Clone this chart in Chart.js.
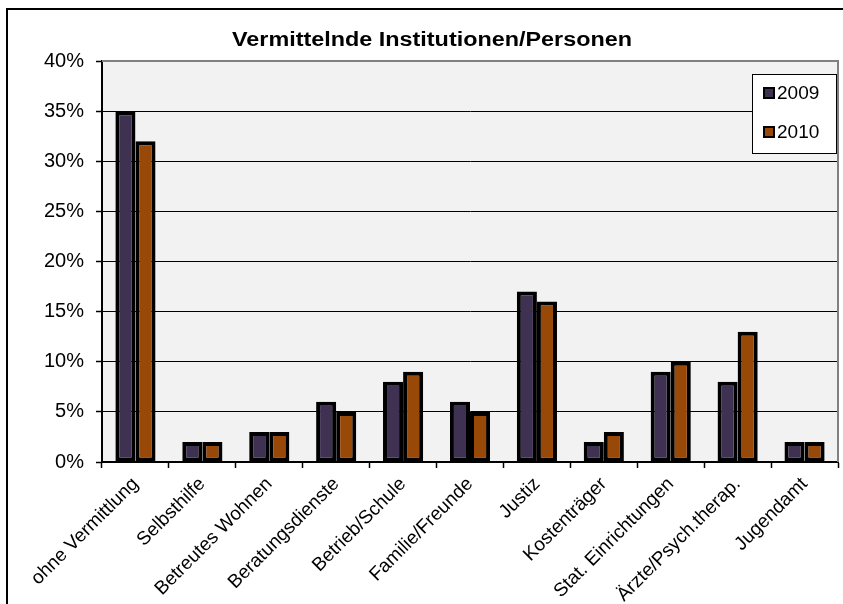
<!doctype html>
<html lang="de">

<head>
    <meta charset="utf-8">
    <title>Vermittelnde Institutionen/Personen</title>
    <style>
        body { margin: 0; background: #fff; }
        #wrap { width: 843px; height: 604px; }
    </style>
</head>

<body>
    <div id="wrap"><canvas id="chart" width="843" height="604"></canvas></div>

    <script src="https://cdn.jsdelivr.net/npm/chart.js"></script>
    <script>
        const categories = ["ohne Vermittlung", "Selbsthilfe", "Betreutes Wohnen", "Beratungsdienste",
            "Betrieb/Schule", "Familie/Freunde", "Justiz", "Kostenträger", "Stat. Einrichtungen",
            "Ärzte/Psych.therap.", "Jugendamt"];
        const values2009 = [35, 2, 3, 6, 8, 6, 17, 2, 9, 8, 2];
        const values2010 = [32, 2, 3, 5, 9, 5, 16, 3, 10, 13, 2];
        const yTicks = [0, 5, 10, 15, 20, 25, 30, 35, 40];
        const chartTitle = "Vermittelnde Institutionen/Personen";

        const FONT = "'Liberation Sans', Arial, sans-serif";

        // frame, plot background, grey plot border, title and boxed legend
        const decor = {
            id: 'decor',
            beforeDraw(chart) {
                const { ctx, chartArea: a } = chart;
                ctx.save();
                ctx.fillStyle = '#F2F2F2';
                ctx.fillRect(a.left, a.top, a.right - a.left, a.bottom - a.top);
                ctx.strokeStyle = '#000';
                ctx.lineWidth = 2;
                ctx.strokeRect(7, 9, 900, 700);
                ctx.restore();
            },
            afterDraw(chart) {
                const { ctx, chartArea: a } = chart;
                ctx.save();
                // grey border top/right
                ctx.strokeStyle = '#808080';
                ctx.lineWidth = 2;
                ctx.beginPath();
                ctx.moveTo(a.left, a.top);
                ctx.lineTo(a.right, a.top);
                ctx.lineTo(a.right, a.bottom);
                ctx.stroke();

                // title
                ctx.font = 'bold 20px ' + FONT;
                ctx.fillStyle = '#000';
                ctx.textBaseline = 'alphabetic';
                const w = ctx.measureText(chartTitle).width;
                const sx = 400 / w;
                ctx.translate(432, 46);
                ctx.scale(sx, 1);
                ctx.textAlign = 'center';
                ctx.fillText(chartTitle, 0, 0);
                ctx.restore();

                // legend box
                ctx.save();
                const bx = a.right - 86, by = a.top + 13, bw = 84, bh = 79;
                ctx.fillStyle = '#fff';
                ctx.fillRect(bx, by, bw, bh);
                ctx.strokeStyle = '#000';
                ctx.lineWidth = 1;
                ctx.strokeRect(bx + 0.5, by + 0.5, bw, bh);
                ctx.font = '19px ' + FONT;
                ctx.textBaseline = 'middle';
                chart.data.datasets.forEach((ds, i) => {
                    const cy = by + 19 + i * 39;
                    ctx.fillStyle = ds.backgroundColor;
                    ctx.fillRect(bx + 12, cy - 5, 10, 10);
                    ctx.lineWidth = 2;
                    ctx.strokeRect(bx + 12, cy - 5, 10, 10);
                    ctx.fillStyle = '#000';
                    ctx.fillText(ds.label, bx + 25, cy + 1);
                });
                ctx.restore();
            }
        };

        new Chart(document.getElementById('chart'), {
            type: 'bar',
            data: {
                labels: categories,
                datasets: [
                    {
                        label: '2009', data: values2009, backgroundColor: '#3F3151',
                        borderColor: '#000', borderWidth: 4, borderSkipped: false
                    },
                    {
                        label: '2010', data: values2010, backgroundColor: '#984807',
                        borderColor: '#000', borderWidth: 4, borderSkipped: false
                    }
                ]
            },
            options: {
                responsive: false,
                animation: false,
                layout: { padding: { top: 61, right: 5, left: 0, bottom: 0 } },
                datasets: { bar: { categoryPercentage: 0.6, barPercentage: 1 } },
                plugins: {
                    legend: { display: false },
                    title: { display: false },
                    tooltip: { enabled: false }
                },
                scales: {
                    x: {
                        afterFit: s => { s.height = 142; },
                        grid: { drawOnChartArea: false, offset: true, tickLength: 6, tickColor: '#000', tickWidth: 1.5 },
                        border: { color: '#000', width: 2 },
                        ticks: {
                            minRotation: 45, maxRotation: 45, autoSkip: false, padding: 5,
                            color: '#000', font: { family: FONT, size: 19 }
                        }
                    },
                    y: {
                        min: 0, max: 40,
                        afterFit: s => { s.width = 102; },
                        afterBuildTicks: s => { s.ticks = yTicks.map(v => ({ value: v })); },
                        grid: {
                            color: c => c.tick && c.tick.value === 40 ? 'rgba(0,0,0,0)' : '#000',
                            lineWidth: 1, tickLength: 6, tickColor: '#000', tickWidth: 1.5
                        },
                        border: { color: '#000', width: 2 },
                        ticks: {
                            padding: 12, color: '#000', font: { family: FONT, size: 20 },
                            callback: v => v + '%'
                        }
                    }
                }
            },
            plugins: [decor]
        });
    </script>
</body>

</html>
